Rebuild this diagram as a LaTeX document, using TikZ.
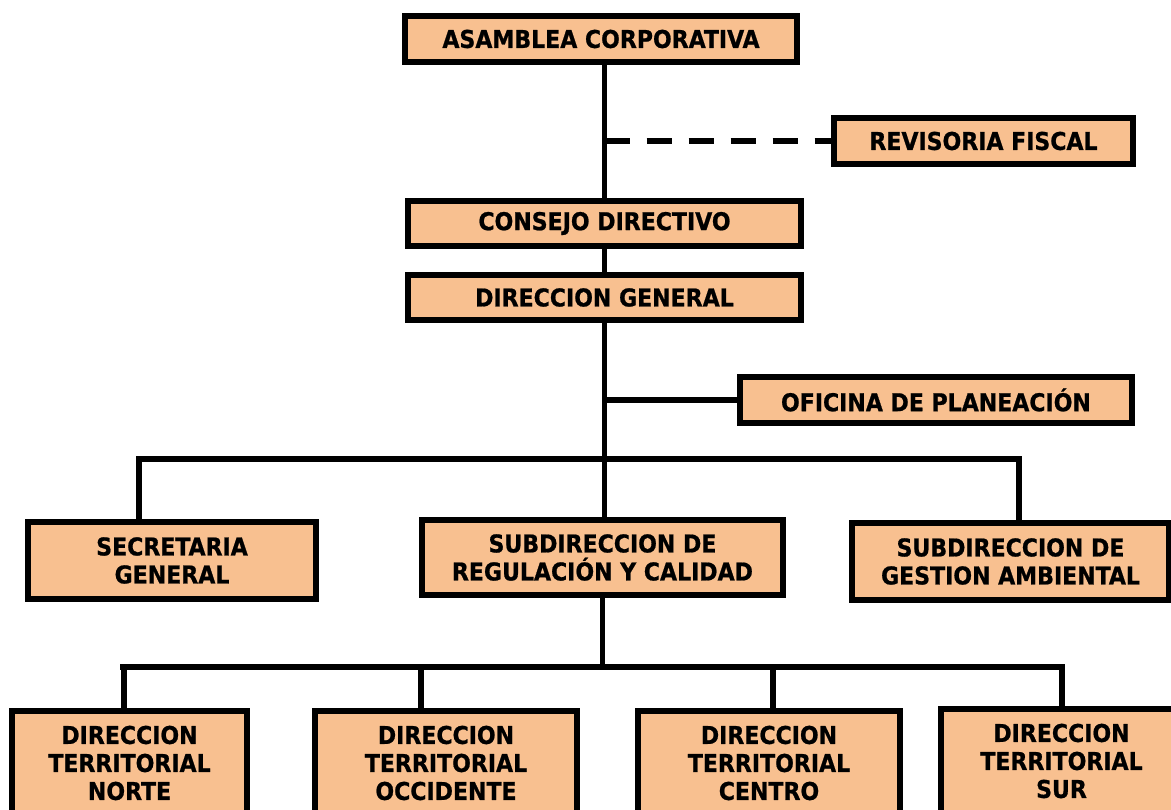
\documentclass[tikz,border=0pt]{standalone}
\usepackage{fontspec}
\setmainfont{DejaVu Sans Condensed}[BoldFeatures={FakeBold=0.8}]
\definecolor{boxfill}{RGB}{248,192,144}
\tikzset{
  org/.style={draw=black, line width=6pt, fill=boxfill, align=center,
    inner sep=0pt, text=black, font=\fontsize{24.5}{28}\selectfont\bfseries},
  link/.style={line width=5.5pt, line join=miter, draw=black},
}
\begin{document}
\begin{tikzpicture}[x=1pt,y=-1pt]
\useasboundingbox (0,0) rectangle (1171,810);
\clip (0,0) rectangle (1171,810);
\fill[white] (0,0) rectangle (1171,810);
% junction coordinates
\coordinate (d1) at (139,459);
\coordinate (d2) at (1019,459);
\coordinate (b2l) at (120,667);
\coordinate (b2r) at (1062,667);
\coordinate (e1) at (124,667);
\coordinate (e2) at (421,667);
\coordinate (e3) at (773,667);
% nodes
\node[org, minimum width=392pt, minimum height=46pt] (asamblea) at (601,39) {ASAMBLEA CORPORATIVA};
\node[org, minimum width=299pt, minimum height=46pt] (revisoria) at (983.5,141) {REVISORIA FISCAL};
\node[org, minimum width=393pt, minimum height=45pt] (consejo) at (604.5,223.5) {CONSEJO DIRECTIVO};
\node[org, minimum width=393pt, minimum height=45pt] (dirgen) at (604.5,297.5) {DIRECCION GENERAL};
\node[org, minimum width=392pt, minimum height=46pt] (oficina) at (936,400) {OFICINA DE PLANEACIÓN};
\node[org, minimum width=288pt, minimum height=77pt] (secretaria) at (172,560.5) {SECRETARIA\\GENERAL};
\node[org, minimum width=361pt, minimum height=75pt] (subreg) at (602.5,557.5) {SUBDIRECCION DE\\REGULACIÓN Y CALIDAD};
\node[org, minimum width=317pt, minimum height=77pt] (gestion) at (1010.5,561.5) {SUBDIRECCION DE\\GESTION AMBIENTAL};
\node[org, minimum width=235pt, minimum height=104pt] (norte) at (129.5,763) {DIRECCION\\TERRITORIAL\\NORTE};
\node[org, minimum width=262pt, minimum height=104pt] (occidente) at (446,763) {DIRECCION\\TERRITORIAL\\OCCIDENTE};
\node[org, minimum width=262pt, minimum height=104pt] (centro) at (769,763) {DIRECCION\\TERRITORIAL\\CENTRO};
\node[org, minimum width=241pt, minimum height=104pt] (sur) at (1061.5,761) {DIRECCION\\TERRITORIAL\\SUR};
% connectors
\draw[link] (asamblea.south -| consejo.north) -- (consejo.north);
\draw[link] (consejo.south) -- (dirgen.north);
\draw[link] (dirgen.south) -- (dirgen.south |- subreg.north);
\draw[link, dash pattern=on 25pt off 17pt] (consejo.north |- revisoria.west) -- (revisoria.west);
\draw[link] (consejo.north |- oficina.west) -- (oficina.west);
\draw[link] (d1 |- secretaria.north) -- (d1) -- (d2) -- (d2 |- gestion.north);
\draw[link] (subreg.south) -- (subreg.south |- b2l);
\draw[link] (b2l) -- (b2r) -- (b2r |- sur.north);
\draw[link] (e1) -- (e1 |- norte.north);
\draw[link] (e2) -- (e2 |- occidente.north);
\draw[link] (e3) -- (e3 |- centro.north);
\end{tikzpicture}
\end{document}
